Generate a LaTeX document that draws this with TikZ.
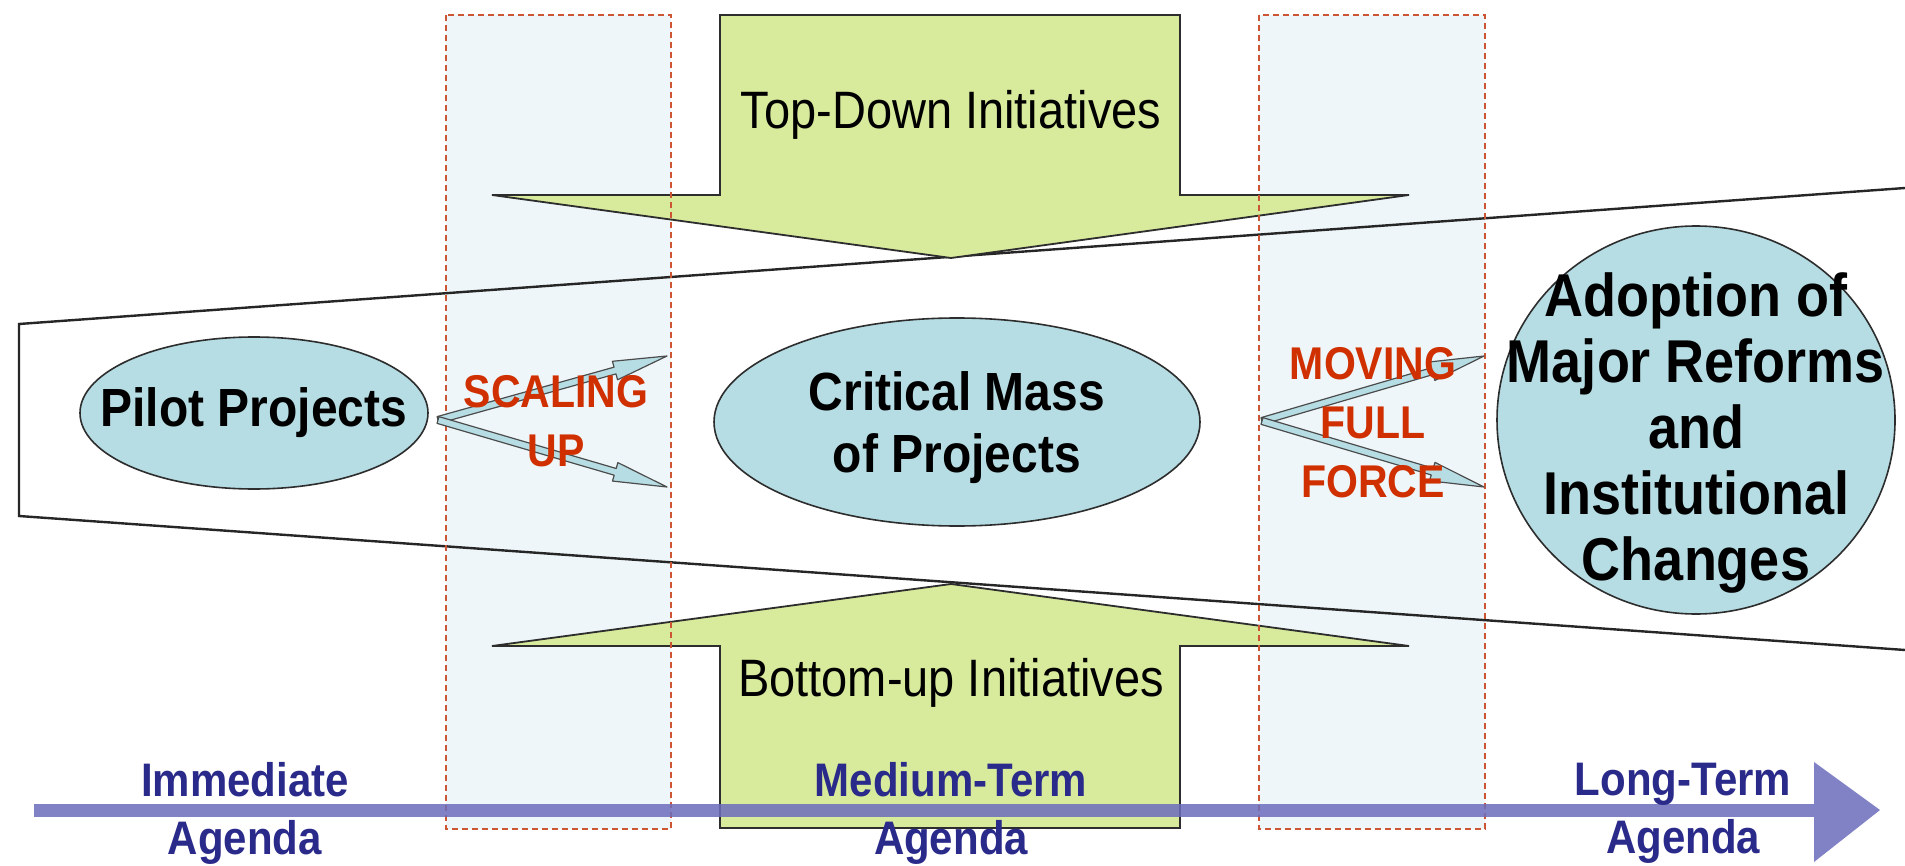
\documentclass[tikz,border=0pt]{standalone}
\usepackage{fontspec}
\usepackage{graphicx}
\setmainfont{Liberation Sans}
\usetikzlibrary{calc,shapes.geometric}
\definecolor{ellfill}{RGB}{182,221,228}
\definecolor{greenfill}{RGB}{216,234,156}
\definecolor{boxfill}{RGB}{238,246,249}
\definecolor{dashred}{RGB}{204,85,51}
\definecolor{redtxt}{RGB}{208,48,0}
\definecolor{bluetxt}{RGB}{42,42,138}
\definecolor{tlcol}{RGB}{108,108,188}
\definecolor{edgecol}{RGB}{45,45,45}
\newcommand{\tl}[1]{\scalebox{1}[1.12]{#1}}
\newcommand{\thinarrow}[3]{%
  \coordinate (#3) at ($(#2)!27pt!(#1)$);
  \filldraw[thinarr] ($(#1)!1.75pt!90:(#2)$) -- ($(#3)!1.75pt!-90:(#1)$) -- ($(#3)!4.8pt!-90:(#1)$) -- (#2) -- ($(#3)!4.8pt!90:(#1)$) -- ($(#3)!1.75pt!90:(#1)$) -- ($(#1)!1.75pt!-90:(#2)$) -- cycle;
}
\begin{document}
\begin{tikzpicture}[x=0.5pt,y=-0.5pt,
  funnel/.style={draw=black!85, line width=1.2pt, line join=miter},
  bigarrow/.style={fill=greenfill, draw=edgecol, line width=0.9pt, line join=miter},
  zonefill/.style={fill=boxfill},
  zoneborder/.style={draw=dashred, line width=0.7pt, dash pattern=on 3pt off 2pt},
  ell/.style={ellipse, draw=edgecol, line width=0.8pt, fill=ellfill, inner sep=0pt},
  thinarr/.style={fill=ellfill, draw=edgecol!85, line width=0.6pt, line join=round},
  blacktxt/.style={text=black, align=center, inner sep=0pt},
  redlbl/.style={text=redtxt, font=\bfseries\fontsize{20.5}{29.5}\selectfont, align=center, inner sep=0pt},
  bluelbl/.style={text=bluetxt, font=\bfseries\fontsize{21}{29}\selectfont, align=center, inner sep=0pt},
  tline/.style={draw=tlcol, line width=6.5pt, opacity=0.85},
  thead/.style={fill=tlcol, opacity=0.85}
]
\useasboundingbox (0,0) rectangle (1905,866);
\fill[white] (0,0) rectangle (1905,866);

% zone fills
\fill[zonefill] (446,15) rectangle (671,829);
\fill[zonefill] (1259,15) rectangle (1485,829);

% funnel
\coordinate (fTR) at (1905,188);
\coordinate (fTL) at (19,324);
\coordinate (fBL) at (19,516);
\coordinate (fBR) at (1905,650);
\draw[funnel] (fTR) -- (fTL) -- (fBL) -- (fBR);

% big green arrows
\draw[bigarrow] (720,15) -- (1180,15) -- (1180,195) -- (1409,195) -- (951,258) -- (492,195) -- (720,195) -- cycle;
\draw[bigarrow] (720,828) -- (1180,828) -- (1180,646) -- (1409,646) -- (951,584) -- (492,646) -- (720,646) -- cycle;

% dashed zone borders
\draw[zoneborder] (446,15) rectangle (671,829);
\draw[zoneborder] (1259,15) rectangle (1485,829);

% ellipses
\node[ell, minimum width=174pt, minimum height=76pt] (pilot) at (254,413) {};
\node[ell, minimum width=243pt, minimum height=104pt] (crit) at (957,422) {};
\node[ell, minimum width=199pt, minimum height=194pt] (adopt) at (1696,420) {};

% thin arrows
\coordinate (suS) at (438,420);
\coordinate (suT1) at (667,356);
\coordinate (suT2) at (667,487);
\coordinate (mfS) at (1262,421);
\coordinate (mfT1) at (1484,356);
\coordinate (mfT2) at (1484,487);
\thinarrow{suS}{suT1}{suH1}
\thinarrow{suS}{suT2}{suH2}
\thinarrow{mfS}{mfT1}{mfH1}
\thinarrow{mfS}{mfT2}{mfH2}

% texts
\node[blacktxt, font=\fontsize{23.5}{28}\selectfont] (toptxt) at (951,115) {\tl{Top-Down Initiatives}};
\node[blacktxt, font=\fontsize{23.5}{28}\selectfont] (bottxt) at (951,683) {\tl{Bottom-up Initiatives}};
\node[blacktxt, font=\bfseries\fontsize{24}{29}\selectfont] (pilottxt) at (pilot) {\tl{Pilot Projects}};
\node[blacktxt, font=\bfseries\fontsize{24}{31}\selectfont] (crittxt) at (957,428) {\tl{Critical Mass}\\\tl{of Projects}};
\node[blacktxt, font=\bfseries\fontsize{27}{33}\selectfont] (adopttxt) at (1696,433) {\tl{Adoption of}\\\tl{Major Reforms}\\\tl{and}\\\tl{Institutional}\\\tl{Changes}};
\node[redlbl] (scaling) at (556,421) {\tl{SCALING}\\\tl{UP}};
\node[redlbl] (moving) at (1373,423) {\tl{MOVING}\\\tl{FULL}\\\tl{FORCE}};

% timeline
\coordinate (tlS) at (34,810);
\coordinate (tlE) at (1814,810);
\coordinate (tlTip) at (1880,810);
\draw[tline] (tlS) -- (tlE);
\fill[thead] (1814,762) -- (tlTip) -- (1814,862) -- cycle;

\node[bluelbl] (imm) at (245,813) {\tl{Immediate}\\\tl{Agenda}};
\node[bluelbl] (med) at (951,813) {\tl{Medium-Term}\\\tl{Agenda}};
\node[bluelbl] (long) at (1683,813) {\tl{Long-Term}\\\tl{Agenda}};
\end{tikzpicture}
\end{document}
